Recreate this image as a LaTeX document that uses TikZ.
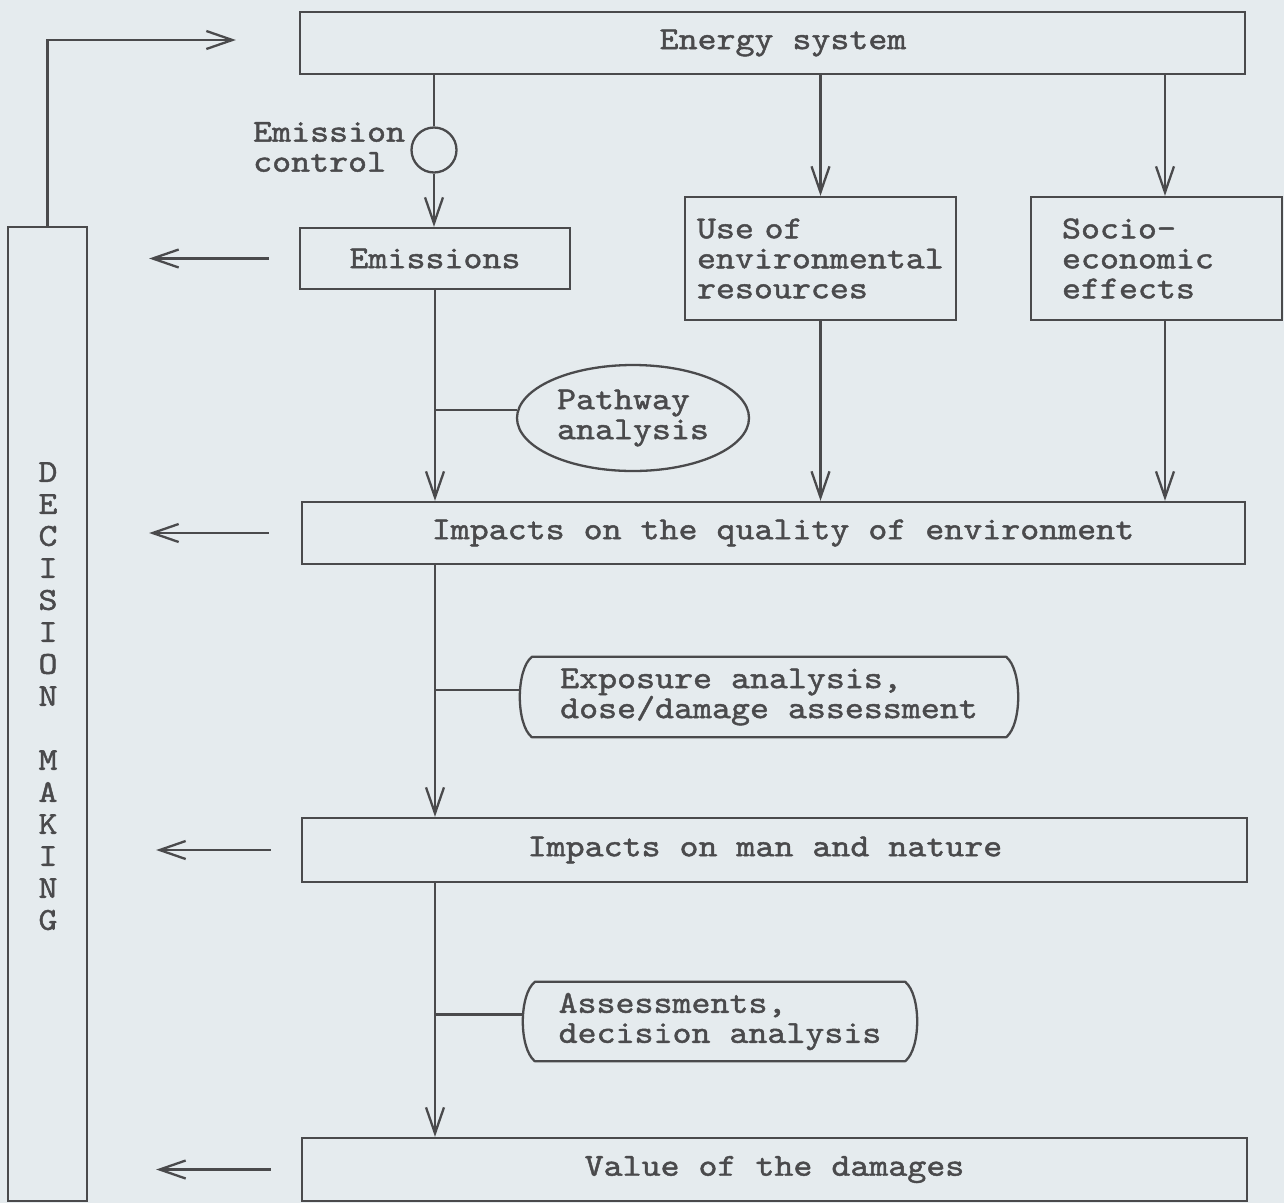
\documentclass[tikz,border=0pt]{standalone}
\usetikzlibrary{arrows.meta,shapes.geometric}
\definecolor{paper}{RGB}{229,235,238}
\definecolor{ink}{RGB}{74,74,76}
% widened, slightly heavier typewriter face
\font\tyfont="[lmmono10-regular.otf]:extend=1.13;embolden=1.4" at 32pt
\tikzset{
  inkline/.style={draw=ink, line width=2.3pt},
  lbl/.style={text=ink, font=\fontsize{32}{30}\selectfont\tyfont, inner sep=0pt},
  box/.style={inkline, lbl, rectangle, inner sep=0pt},
  flow/.style={inkline, -{Straight Barb[length=26pt,width=18pt]}},
  capsule/.style={inkline, line join=round}
}
\begin{document}
\begin{tikzpicture}[x=1pt,y=-1pt]
  \fill[paper] (0,0) rectangle (1284,1203);
  \useasboundingbox (0,0) rectangle (1284,1203);

  % main boxes
  \node[box, minimum width=945, minimum height=62] (energy) at (772.5,43) {\hspace*{21pt}Energy system};
  \node[box, minimum width=270, minimum height=61] (emis) at (435,258.5) {Emissions};
  \node[box, minimum width=271, minimum height=123, text width=247, inner xsep=12, align=left]
       (use) at (820.5,258.5) {Use of\\environmental\\resources};
  \node[box, minimum width=251, minimum height=123, text width=189, inner xsep=31, align=left]
       (socio) at (1156.5,258.5) {Socio-\\economic\\effects};
  \node[box, minimum width=943, minimum height=62] (quality) at (773.5,533) {\hspace*{19pt}Impacts on the quality of environment};
  \node[box, minimum width=945, minimum height=64] (man) at (774.5,850) {Impacts on man and nature\hspace*{19pt}};
  \node[box, minimum width=945, minimum height=63] (value) at (774.5,1169.5) {Value of the damages};
  \node[box, minimum width=79, minimum height=974] (dm) at (47.5,714) {};

  % vertical label of the decision column
  \foreach \c [count=\i] in {D,E,C,I,S,I,O,N,{},M,A,K,I,N,G}
    \node[lbl] (dm\i) at (48,{472+32*(\i-1)}) {\c};

  % emission control valve
  \node[inkline, circle, minimum size=45, inner sep=0pt] (ctl) at (434,150) {};
  \node[lbl, anchor=west, align=left] (ctltxt) at (253,147) {Emission\\control};

  % analysis steps
  \node[inkline, lbl, ellipse, minimum width=232, minimum height=106, align=left] (pw) at (633,418)
       {Pathway\\analysis};
  \node[lbl, minimum width=498, minimum height=80, align=left] (exp) at (769,697)
       {Exposure analysis,\\dose/damage assessment};
  \node[lbl, minimum width=394, minimum height=79, align=left] (ass) at (720,1021.5)
       {Assessments,\\decision analysis};

  \draw[capsule] ([xshift=12]exp.north west) -- ([xshift=-12]exp.north east)
     .. controls ([xshift=4,yshift=-13]exp.north east) and ([xshift=4,yshift=13]exp.south east) .. ([xshift=-12]exp.south east)
     -- ([xshift=12]exp.south west)
     .. controls ([xshift=-4,yshift=13]exp.south west) and ([xshift=-4,yshift=-13]exp.north west) .. cycle;
  \draw[capsule] ([xshift=12]ass.north west) -- ([xshift=-12]ass.north east)
     .. controls ([xshift=4,yshift=-13]ass.north east) and ([xshift=4,yshift=13]ass.south east) .. ([xshift=-12]ass.south east)
     -- ([xshift=12]ass.south west)
     .. controls ([xshift=-4,yshift=13]ass.south west) and ([xshift=-4,yshift=-13]ass.north west) .. cycle;

  % attachment points on the socio-economic box
  \coordinate (sin) at ([xshift=8.5]socio.north);
  \coordinate (sout) at ([xshift=8.5]socio.south);

  % downward flow
  \draw[inkline] (energy.south -| ctl.north) -- (ctl.north);
  \draw[flow] (ctl.south) -- (emis.north -| ctl.south);
  \draw[flow] (energy.south -| use.north) -- (use.north);
  \draw[flow] (energy.south -| sin) -- (sin);
  \draw[flow] (emis.south) -- (quality.north -| emis.south);
  \draw[flow] (use.south) -- (quality.north -| use.south);
  \draw[flow] (sout) -- (quality.north -| sout);
  \draw[flow] (quality.south -| emis.south) -- (man.north -| emis.south);
  \draw[flow] (man.south -| emis.south) -- (value.north -| emis.south);

  % side branches to the analysis steps
  \draw[inkline] (pw.176) -- (pw.176 -| emis.south);
  \draw[inkline] ([yshift=7]exp.west) -- ([yshift=7]exp.west -| emis.south);
  \draw[inkline] ([yshift=7]ass.west) -- ([yshift=7]ass.west -| emis.south);

  % reports to decision making
  \draw[flow] ([xshift=-30]emis.west) -- ([xshift=61]dm.east |- emis.west);
  \draw[flow] ([xshift=-32]quality.west) -- ([xshift=61]dm.east |- quality.west);
  \draw[flow] ([xshift=-30]man.west) -- ([xshift=68]dm.east |- man.west);
  \draw[flow] ([xshift=-30]value.west) -- ([xshift=68]dm.east |- value.west);

  % feedback to the energy system
  \draw[flow] (dm.north) |- ([xshift=-63,yshift=3]energy.west);
\end{tikzpicture}
\end{document}
